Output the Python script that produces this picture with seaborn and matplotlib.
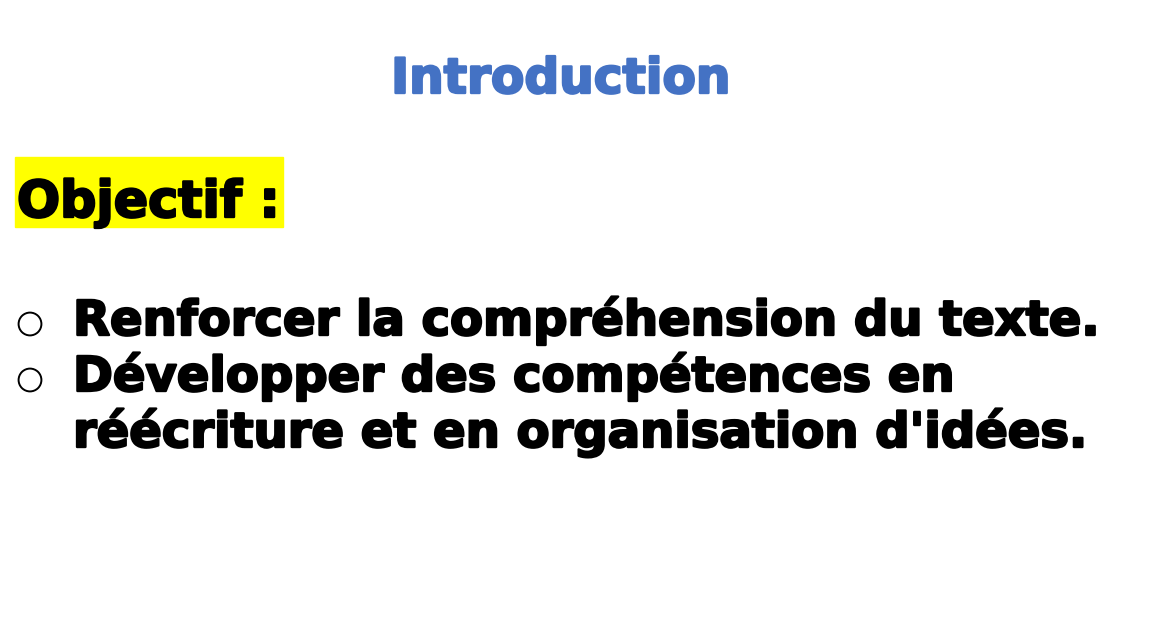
import matplotlib
matplotlib.use("Agg")
import matplotlib.pyplot as plt
import matplotlib.patheffects as pe
from matplotlib.patches import Rectangle
import seaborn as sns

sns.set_theme(style="white")
plt.rcParams['font.family'] = ['DejaVu Sans']

# slide content
title = "Introduction"
heading = "Objectif :"
bullets = [
    ["Renforcer la compréhension du texte."],
    ["Développer des compétences en", "réécriture et en organisation d'idées."],
]

blue = '#4472C4'
yellow = '#FFFF00'

W, H = 1154, 626
fig = plt.figure(figsize=(W / 100, H / 100), dpi=100)
ax = fig.add_axes([0, 0, 1, 1])
ax.set_xlim(0, W)
ax.set_ylim(H, 0)
ax.axis('off')

heavy = [pe.withStroke(linewidth=1.7, foreground='black')]

ax.text(561, 93, title, color=blue, fontsize=35, fontweight='bold',
        ha='center', va='baseline',
        path_effects=[pe.withStroke(linewidth=1.7, foreground=blue)])

head = ax.text(17, 217, heading, color='black', fontsize=36.5, fontweight='bold',
               va='baseline', path_effects=heavy)

# yellow highlight behind the heading, sized to the text width
fig.canvas.draw()
bb = head.get_window_extent().transformed(ax.transData.inverted())
right = max(bb.x0, bb.x1) + 3
ax.add_patch(Rectangle((15, 157), right - 15, 70, color=yellow, zorder=0))

y = 335
for item in bullets:
    ax.scatter([30], [y - 11], s=270, facecolors='none', edgecolors='black',
               linewidths=1.4)
    for line in item:
        ax.text(73, y, line, color='black', fontsize=34.6, fontweight='bold',
                va='baseline', path_effects=heavy)
        y += 56

fig.savefig('out.png', dpi=100, facecolor='white')
